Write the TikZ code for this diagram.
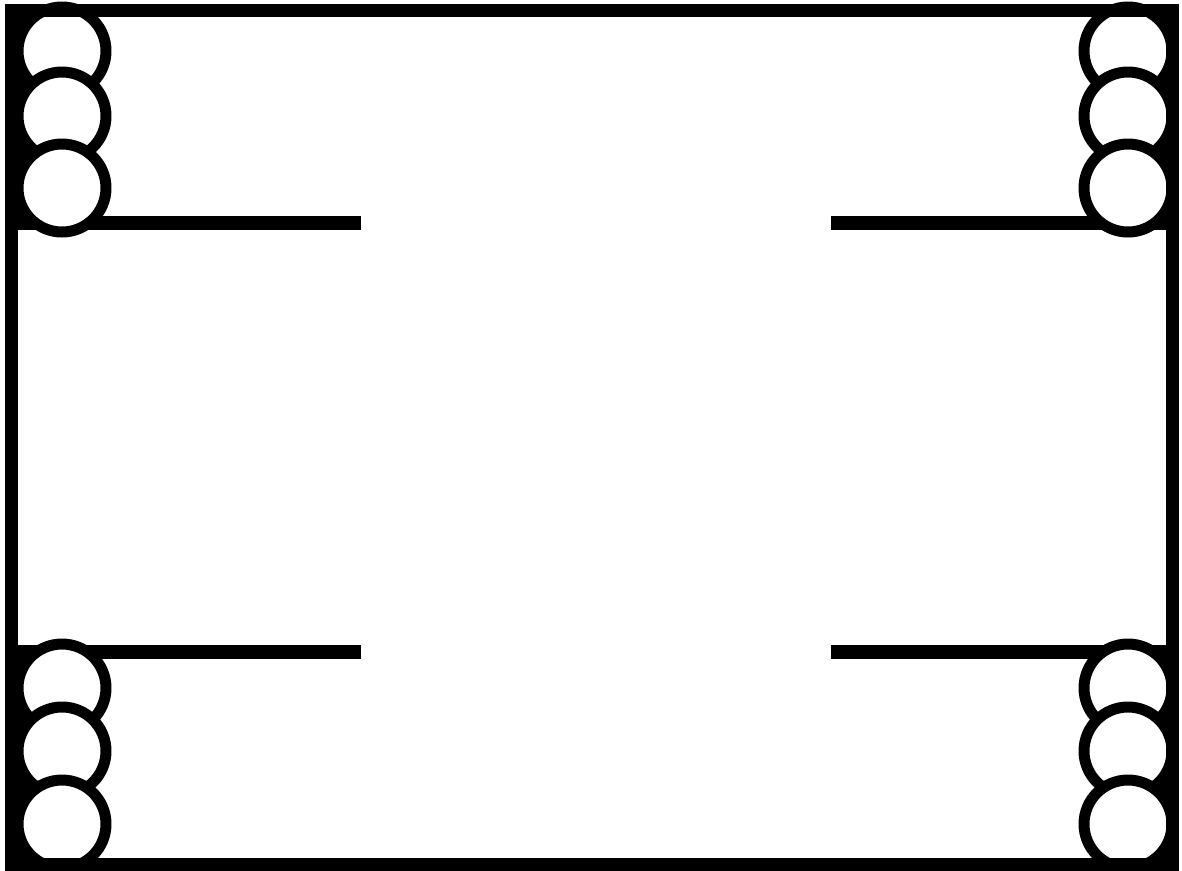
\documentclass[tikz,border=0pt]{standalone}
\usepackage{tikz}

\tikzset{
  frame/.style={line width=0.26cm, black},
  rail/.style={line width=0.27cm, black},
  roller/.style={line width=0.22cm, black, fill=white},
}

\begin{document}
\begin{tikzpicture}[x=0.02cm, y=-0.02cm]
            \useasboundingbox (0,0) rectangle (1182,870);
            % rails
            \draw[rail] (11,223) -- (361,223);
            \draw[rail] (831,223) -- (1172,223);
            \draw[rail] (11,652) -- (361,652);
            \draw[rail] (831,652) -- (1172,652);
            % dark backing behind the rollers
            \fill[black] (5,5) rectangle (36,218);
            \fill[black] (1150,5) rectangle (1178,218);
            \fill[black] (5,658) rectangle (36,870);
            \fill[black] (1150,658) rectangle (1178,870);
            % rollers, top then bottom
            \foreach \cy in {51,116,188} {
                \draw[roller] (62,\cy) circle (0.88cm);
                \draw[roller] (1128,\cy) circle (0.88cm);
            }
            \foreach \cy in {688,751,824} {
                \draw[roller] (62,\cy) circle (0.88cm);
                \draw[roller] (1128,\cy) circle (0.88cm);
            }
            % outer frame
            \draw[frame] (11.5,10.5) -- (1172,10.5) -- (1172,864) -- (11.5,864) -- cycle;
\end{tikzpicture}
\end{document}
